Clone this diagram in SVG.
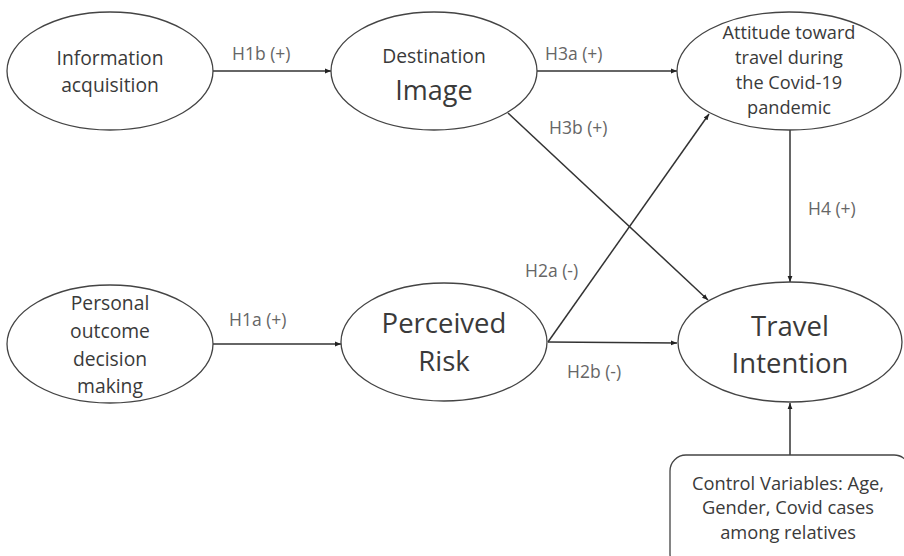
<svg xmlns="http://www.w3.org/2000/svg" width="904" height="556" viewBox="0 0 904 556">
<style>
.node ellipse, .node rect{fill:#fff;stroke:#444;stroke-width:1.3}
.t{font-family:"Open Sans","Liberation Sans",sans-serif;fill:#3a3a3a;text-anchor:middle}
.lbl{font-family:"Open Sans","Liberation Sans",sans-serif;fill:#666;font-size:17.5px}
.conn line{stroke:#333;stroke-width:1.5;marker-end:url(#ah)}
</style>
<defs>
<marker id="ah" viewBox="0 0 10 10" refX="10" refY="5" markerWidth="6" markerHeight="6" orient="auto" markerUnits="userSpaceOnUse">
<path d="M0,1 L10,5 L0,9 z" fill="#222"/>
</marker>
</defs>
<rect width="904" height="556" fill="#fff"/>
<g id="connectors" class="conn">
<line x1="213" y1="71" x2="331" y2="71"/>
<line x1="537" y1="71" x2="677" y2="71"/>
<line x1="508" y1="113" x2="708" y2="300"/>
<line x1="548" y1="342" x2="709" y2="114"/>
<line x1="548" y1="342" x2="677" y2="343"/>
<line x1="213" y1="344" x2="341" y2="344"/>
<line x1="790" y1="130" x2="790" y2="282"/>
<line x1="790" y1="455" x2="790" y2="403"/>
</g>
<g id="labels">
<text class="lbl" x="232" y="60">H1b (+)</text>
<text class="lbl" x="545" y="60">H3a (+)</text>
<text class="lbl" x="549" y="134">H3b (+)</text>
<text class="lbl" x="808" y="215">H4 (+)</text>
<text class="lbl" x="525" y="277">H2a (-)</text>
<text class="lbl" x="229" y="326">H1a (+)</text>
<text class="lbl" x="567" y="378">H2b (-)</text>
</g>
<g id="info" class="node">
<ellipse cx="110" cy="71" rx="103" ry="59"/>
<text class="t" font-size="19.3" x="110" y="65">Information</text>
<text class="t" font-size="19.3" x="110" y="92">acquisition</text>
</g>
<g id="dest" class="node">
<ellipse cx="434" cy="71" rx="103" ry="59"/>
<text class="t" font-size="19.3" x="434" y="63">Destination</text>
<text class="t" font-size="27" x="434" y="100">Image</text>
</g>
<g id="attitude" class="node">
<ellipse cx="789" cy="71" rx="112" ry="59"/>
<text class="t" font-size="18.2" x="789" y="39">Attitude toward</text>
<text class="t" font-size="18.2" x="789" y="64">travel during</text>
<text class="t" font-size="18.2" x="789" y="89">the Covid-19</text>
<text class="t" font-size="18.2" x="789" y="114">pandemic</text>
</g>
<g id="personal" class="node">
<ellipse cx="110" cy="344" rx="103" ry="59"/>
<text class="t" font-size="19.3" x="110" y="310">Personal</text>
<text class="t" font-size="19.3" x="110" y="338">outcome</text>
<text class="t" font-size="19.3" x="110" y="366">decision</text>
<text class="t" font-size="19.3" x="110" y="393">making</text>
</g>
<g id="risk" class="node">
<ellipse cx="444" cy="342" rx="103" ry="59"/>
<text class="t" font-size="27.5" x="444" y="333">Perceived</text>
<text class="t" font-size="27.5" x="444" y="371">Risk</text>
</g>
<g id="intention" class="node">
<ellipse cx="790" cy="342" rx="112" ry="60"/>
<text class="t" font-size="27.5" x="790" y="336">Travel</text>
<text class="t" font-size="27.5" x="790" y="373">Intention</text>
</g>
<g id="control" class="node">
<rect x="670" y="455" width="240" height="115" rx="16"/>
<text class="t" font-size="18.3" x="788" y="490">Control Variables: Age,</text>
<text class="t" font-size="18.3" x="788" y="514">Gender, Covid cases</text>
<text class="t" font-size="18.3" x="788" y="539">among relatives</text>
</g>
</svg>
